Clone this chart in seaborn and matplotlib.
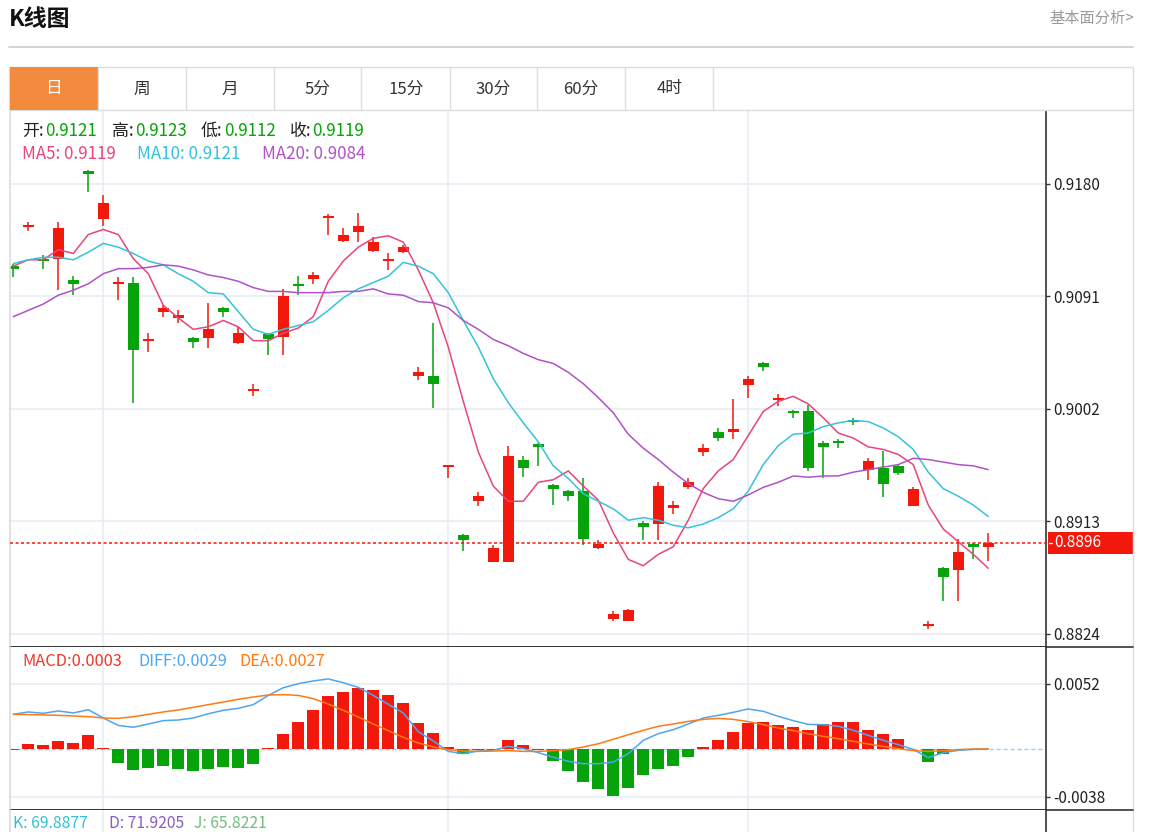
import numpy as np
import pandas as pd
import seaborn as sns
import matplotlib.pyplot as plt
from matplotlib.patches import Rectangle
from matplotlib.lines import Line2D

# ---- data (daily K line, 66 sessions) ----
opens = [0.9115, 0.9146, 0.9121, 0.9121, 0.9104, 0.9190, 0.9152, 0.9101, 0.9102, 0.9056,
         0.9079, 0.9074, 0.9058, 0.9058, 0.9082, 0.9054, 0.9016, 0.9061, 0.9059, 0.9101,
         0.9105, 0.9153, 0.9135, 0.9142, 0.9127, 0.9119, 0.9126, 0.9028, 0.9028, 0.8956,
         0.8902, 0.8929, 0.8881, 0.8881, 0.8962, 0.8974, 0.8942, 0.8937, 0.8937, 0.8892,
         0.8836, 0.8834, 0.8912, 0.8911, 0.8924, 0.8940, 0.8968, 0.8984, 0.8984, 0.9021,
         0.9038, 0.9009, 0.9000, 0.9000, 0.8975, 0.8977, 0.8993, 0.8954, 0.8955, 0.8957,
         0.8925, 0.8830, 0.8876, 0.8875, 0.8895, 0.8893]
highs = [0.9117, 0.9150, 0.9124, 0.9150, 0.9107, 0.9191, 0.9171, 0.9106, 0.9106, 0.9062,
         0.9084, 0.9080, 0.9059, 0.9086, 0.9083, 0.9067, 0.9022, 0.9062, 0.9097, 0.9107,
         0.9110, 0.9156, 0.9145, 0.9157, 0.9138, 0.9125, 0.9132, 0.9035, 0.9070, 0.8958,
         0.8903, 0.8936, 0.8894, 0.8973, 0.8965, 0.8975, 0.8943, 0.8938, 0.8947, 0.8898,
         0.8842, 0.8844, 0.8913, 0.8944, 0.8929, 0.8947, 0.8974, 0.8987, 0.9010, 0.9028,
         0.9039, 0.9014, 0.9001, 0.9005, 0.8977, 0.8978, 0.8995, 0.8963, 0.8969, 0.8958,
         0.8940, 0.8834, 0.8877, 0.8899, 0.8896, 0.8904]
lows = [0.9106, 0.9143, 0.9113, 0.9096, 0.9092, 0.9174, 0.9147, 0.9088, 0.9007, 0.9047,
        0.9075, 0.9070, 0.9050, 0.9050, 0.9075, 0.9053, 0.9012, 0.9045, 0.9045, 0.9092,
        0.9101, 0.9140, 0.9134, 0.9134, 0.9126, 0.9112, 0.9125, 0.9025, 0.9003, 0.8947,
        0.8890, 0.8925, 0.8881, 0.8881, 0.8948, 0.8957, 0.8926, 0.8929, 0.8894, 0.8891,
        0.8834, 0.8834, 0.8898, 0.8898, 0.8919, 0.8939, 0.8965, 0.8977, 0.8978, 0.9011,
        0.9032, 0.9004, 0.8995, 0.8953, 0.8947, 0.8971, 0.8989, 0.8946, 0.8932, 0.8950,
        0.8925, 0.8828, 0.8850, 0.8850, 0.8883, 0.8882]
closes = [0.9113, 0.9147, 0.9119, 0.9145, 0.9101, 0.9188, 0.9165, 0.9102, 0.9049, 0.9057,
          0.9082, 0.9076, 0.9055, 0.9065, 0.9079, 0.9062, 0.9018, 0.9057, 0.9091, 0.9099,
          0.9108, 0.9154, 0.9140, 0.9147, 0.9134, 0.9120, 0.9130, 0.9031, 0.9022, 0.8957,
          0.8898, 0.8933, 0.8892, 0.8965, 0.8955, 0.8972, 0.8939, 0.8933, 0.8899, 0.8895,
          0.8840, 0.8843, 0.8909, 0.8941, 0.8926, 0.8944, 0.8971, 0.8979, 0.8986, 0.9026,
          0.9035, 0.9010, 0.8999, 0.8955, 0.8972, 0.8975, 0.8992, 0.8961, 0.8943, 0.8951,
          0.8939, 0.8831, 0.8869, 0.8889, 0.8893, 0.8896]

ma5 = [0.9115, 0.9120, 0.9120, 0.9128, 0.9125, 0.9140, 0.9144, 0.9140, 0.9121, 0.9109,
       0.9084, 0.9074, 0.9065, 0.9067, 0.9072, 0.9067, 0.9056, 0.9056, 0.9062, 0.9066,
       0.9075, 0.9103, 0.9119, 0.9130, 0.9137, 0.9139, 0.9134, 0.9112, 0.9086, 0.9051,
       0.9008, 0.8968, 0.8941, 0.8929, 0.8929, 0.8944, 0.8946, 0.8953, 0.8941, 0.8930,
       0.8904, 0.8883, 0.8878, 0.8887, 0.8893, 0.8914, 0.8939, 0.8953, 0.8962, 0.8981,
       0.9000, 0.9008, 0.9012, 0.9006, 0.8995, 0.8983, 0.8979, 0.8972, 0.8970, 0.8966,
       0.8958, 0.8926, 0.8907, 0.8897, 0.8887, 0.8876]
ma10 = [0.9117, 0.9120, 0.9122, 0.9122, 0.9120, 0.9126, 0.9133, 0.9130, 0.9125, 0.9119,
        0.9116, 0.9109, 0.9103, 0.9094, 0.9093, 0.9079, 0.9065, 0.9061, 0.9065, 0.9068,
        0.9071, 0.9080, 0.9090, 0.9097, 0.9102, 0.9107, 0.9118, 0.9115, 0.9109, 0.9094,
        0.9072, 0.9051, 0.9026, 0.9007, 0.8991, 0.8976, 0.8957, 0.8947, 0.8935, 0.8929,
        0.8923, 0.8914, 0.8916, 0.8914, 0.8910, 0.8908, 0.8911, 0.8916, 0.8923, 0.8937,
        0.8958, 0.8973, 0.8982, 0.8983, 0.8988, 0.8991, 0.8993, 0.8992, 0.8987, 0.8980,
        0.8970, 0.8952, 0.8939, 0.8933, 0.8926, 0.8917]
ma20 = [0.9075, 0.9080, 0.9085, 0.9092, 0.9096, 0.9101, 0.9109, 0.9113, 0.9113, 0.9114,
        0.9116, 0.9115, 0.9112, 0.9108, 0.9106, 0.9103, 0.9098, 0.9095, 0.9095, 0.9094,
        0.9094, 0.9094, 0.9095, 0.9095, 0.9097, 0.9093, 0.9092, 0.9087, 0.9086, 0.9082,
        0.9072, 0.9065, 0.9057, 0.9052, 0.9046, 0.9041, 0.9038, 0.9031, 0.9022, 0.9011,
        0.8999, 0.8982, 0.8971, 0.8962, 0.8952, 0.8943, 0.8936, 0.8931, 0.8929, 0.8934,
        0.8940, 0.8944, 0.8949, 0.8948, 0.8949, 0.8949, 0.8952, 0.8954, 0.8956, 0.8958,
        0.8963, 0.8962, 0.8960, 0.8958, 0.8957, 0.8954]

macd = [-0.00008, 0.00037, 0.00029, 0.00061, 0.00050, 0.00109, 0.00010, -0.00109, -0.00170, -0.00151,
        -0.00135, -0.00159, -0.00178, -0.00159, -0.00143, -0.00149, -0.00122, 0.00005, 0.00120, 0.00212,
        0.00313, 0.00420, 0.00451, 0.00483, 0.00470, 0.00433, 0.00364, 0.00204, 0.00127, 0.00013,
        -0.00040, -0.00010, -0.00010, 0.00069, 0.00035, -0.00005, -0.00098, -0.00175, -0.00263, -0.00321,
        -0.00372, -0.00311, -0.00204, -0.00157, -0.00135, -0.00064, 0.00013, 0.00069, 0.00133, 0.00204,
        0.00212, 0.00188, 0.00173, 0.00154, 0.00196, 0.00212, 0.00212, 0.00154, 0.00117, 0.00077,
        -0.00003, -0.00104, -0.00040, 0.00002, 0.00001, 0.00000]
diff = [0.00276, 0.00295, 0.00284, 0.00303, 0.00287, 0.00313, 0.00247, 0.00188, 0.00173, 0.00199,
        0.00226, 0.00231, 0.00247, 0.00281, 0.00308, 0.00324, 0.00353, 0.00427, 0.00488, 0.00520,
        0.00542, 0.00558, 0.00528, 0.00491, 0.00427, 0.00356, 0.00287, 0.00138, 0.00064, -0.00019,
        -0.00037, -0.00016, -0.00011, 0.00021, 0.00003, -0.00029, -0.00066, -0.00098, -0.00117, -0.00117,
        -0.00104, -0.00037, 0.00069, 0.00122, 0.00154, 0.00199, 0.00247, 0.00268, 0.00292, 0.00319,
        0.00300, 0.00260, 0.00226, 0.00196, 0.00194, 0.00181, 0.00149, 0.00109, 0.00069, 0.00035,
        -0.00003, -0.00069, -0.00029, -0.00011, -0.00003, 0.00000]
dea = [0.00276, 0.00274, 0.00271, 0.00268, 0.00263, 0.00258, 0.00247, 0.00244, 0.00257, 0.00276,
       0.00295, 0.00311, 0.00332, 0.00353, 0.00374, 0.00396, 0.00414, 0.00430, 0.00433, 0.00427,
       0.00401, 0.00358, 0.00308, 0.00255, 0.00199, 0.00146, 0.00093, 0.00048, 0.00016, -0.00005,
       -0.00016, -0.00019, -0.00016, -0.00013, -0.00019, -0.00019, -0.00013, -0.00005, 0.00016, 0.00042,
       0.00077, 0.00114, 0.00149, 0.00181, 0.00199, 0.00220, 0.00236, 0.00244, 0.00236, 0.00218,
       0.00194, 0.00167, 0.00146, 0.00122, 0.00101, 0.00082, 0.00061, 0.00040, 0.00021, 0.00003,
       -0.00013, -0.00019, -0.00013, -0.00005, 0.00000, 0.00000]

price_ticks = [0.9180, 0.9091, 0.9002, 0.8913, 0.8824]
macd_ticks = [0.0052, -0.0038]
month_marks = [6, 29, 49]   # where the light vertical grid lines fall
tabs = ["日", "周", "月", "5分", "15分", "30分", "60分", "4时"]

# ---- style ----
RED = "#F2190C"
GREEN = "#07A30A"
C_MA5, C_MA10, C_MA20 = "#E8457C", "#35C3DC", "#B052C8"
C_DIFF, C_DEA = "#4DA6F2", "#FF7A14"
GRID = "#E6EDF3"
FRAME = "#DDDDDD"

sns.set_theme(style="white")
plt.rcParams["font.family"] = ["Noto Sans CJK SC", "DejaVu Sans"]

W, H = 1150, 832
fig = plt.figure(figsize=(W / 100, H / 100), dpi=100)


def rect(x0, y0, x1, y1):
    return [x0 / W, 1 - y1 / H, (x1 - x0) / W, (y1 - y0) / H]


def hline(x0, x1, y, color, lw=1.0):
    fig.add_artist(Line2D([x0 / W, x1 / W], [1 - y / H, 1 - y / H], color=color, lw=lw,
                          transform=fig.transFigure))


def vline(x, y0, y1, color, lw=1.0):
    fig.add_artist(Line2D([x / W, x / W], [1 - y0 / H, 1 - y1 / H], color=color, lw=lw,
                          transform=fig.transFigure))


def ftext(x, y, s, **kw):
    fig.text(x / W, 1 - y / H, s, va="center", **kw)


df = pd.DataFrame({"open": opens, "high": highs, "low": lows, "close": closes,
                   "ma5": ma5, "ma10": ma10, "ma20": ma20,
                   "macd": macd, "diff": diff, "dea": dea})
df["idx"] = np.arange(len(df))
df["up"] = df["close"] >= df["open"]
cols = np.where(df["up"], RED, GREEN)

ax = fig.add_axes(rect(10, 110, 1046, 647))
ax_m = fig.add_axes(rect(10, 647, 1046, 810))
ax_k = fig.add_axes(rect(10, 810, 1046, 832))

# ---- main candle panel ----
for t in price_ticks:
    ax.axhline(t, color=GRID, lw=1.2, zorder=0)
for a in (ax, ax_m, ax_k):
    for m in month_marks:
        a.axvline(m, color=GRID, lw=1.2, zorder=0)

ax.vlines(df["idx"], df["low"], df["high"], colors=cols, lw=1.1, zorder=2)
body_bot = np.minimum(df["open"], df["close"])
body_h = np.maximum((df["close"] - df["open"]).abs(), 0.00016)
ax.bar(df["idx"], body_h, bottom=body_bot, width=0.76, color=cols, linewidth=0, zorder=2)

sns.lineplot(data=df, x="idx", y="ma5", ax=ax, color=C_MA5, lw=1.1, zorder=3)
sns.lineplot(data=df, x="idx", y="ma10", ax=ax, color=C_MA10, lw=1.1, zorder=3)
sns.lineplot(data=df, x="idx", y="ma20", ax=ax, color=C_MA20, lw=1.1, zorder=3)

last = closes[-1]
ax.axhline(last, color=RED, lw=1.1, ls=(0, (2, 1.6)), zorder=4)

ax.set_xlim(-0.22, 68.85)
ax.set_ylim(0.88137, 0.92385)
ax.set_yticks(price_ticks)
ax.set_yticklabels([f"{t:.4f}" for t in price_ticks])

# ---- MACD panel ----
ax_m.axhline(0, color="#9CCFEE", lw=1, ls=(0, (3, 2)), zorder=1)
for t in macd_ticks:
    ax_m.axhline(t, color=GRID, lw=1.2, zorder=0)
df["sign"] = np.where(df["macd"] >= 0, "pos", "neg")
sns.barplot(data=df, x="idx", y="macd", hue="sign", palette={"pos": RED, "neg": GREEN},
            native_scale=True, width=0.78, dodge=False, legend=False, errorbar=None,
            saturation=1, linewidth=0, ax=ax_m, zorder=2)
sns.lineplot(data=df, x="idx", y="diff", ax=ax_m, color=C_DIFF, lw=1.1, zorder=3)
sns.lineplot(data=df, x="idx", y="dea", ax=ax_m, color=C_DEA, lw=1.1, zorder=3)
ax_m.set_xlim(-0.22, 68.85)
ax_m.set_ylim(-0.004858, 0.008124)
ax_m.set_yticks(macd_ticks)
ax_m.set_yticklabels([f"{t:.4f}" for t in macd_ticks])

ax_k.set_xlim(-0.22, 68.85)
ax_k.set_ylim(0, 1)
ax_k.set_yticks([])

for a in (ax, ax_m, ax_k):
    a.set_xticks([])
    a.set_xlabel("")
    a.set_ylabel("")
    a.yaxis.tick_right()
    a.tick_params(axis="y", length=3, width=1, color="#333333", labelcolor="#222222",
                  labelsize=11, pad=2, right=True, left=False)
    a.set_facecolor("white")
    a.spines["left"].set_color(FRAME)
    a.spines["right"].set_color("#333333")
    a.spines["right"].set_linewidth(1.2)
    a.spines["top"].set_visible(False)
    a.spines["bottom"].set_visible(False)
ax.spines["top"].set_visible(True)
ax.spines["top"].set_color(FRAME)
for a in (ax, ax_m):
    a.spines["bottom"].set_visible(True)
    a.spines["bottom"].set_color("#111111")
    a.spines["bottom"].set_linewidth(1.2)

# ---- page chrome ----
ftext(9, 20, "K线图", fontsize=16.5, fontweight="bold", color="#111111")
fig.text(1134 / W, 1 - 18 / H, "基本面分析>", ha="right", va="center", fontsize=11, color="#999999")
hline(9, 1133, 46.5, "#CCCCCC", 1.2)

fig.add_artist(Rectangle((9 / W, 1 - 110 / H), (1133 - 9) / W, 43.5 / H, transform=fig.transFigure,
                         facecolor="white", edgecolor=FRAME, lw=1))
fig.add_artist(Rectangle((9.5 / W, 1 - 110 / H), (97.8 - 9.5) / W, 43 / H, transform=fig.transFigure,
                         facecolor="#F38B3F", edgecolor="none"))
seps = [9, 97.8, 185.5, 273.7, 361.4, 450, 536.8, 625.4, 713]
for s in seps[1:]:
    vline(s, 67, 110, FRAME)
for k, name in enumerate(tabs):
    fig.text((seps[k] + seps[k + 1]) / 2 / W, 1 - 89 / H, name, ha="center", va="center",
             fontsize=12, color="white" if k == 0 else "#333333")
vline(1133, 110, 832, FRAME)
hline(1046, 1133, 647, "#333333", 1.2)
hline(1046, 1133, 810, "#333333", 1.2)

# OHLC / MA header
fs = 12.2
ftext(22, 131, "开:", fontsize=fs, color="#222222")
ftext(45, 131, "0.9121", fontsize=fs, color=GREEN)
ftext(112, 131, "高:", fontsize=fs, color="#222222")
ftext(135, 131, "0.9123", fontsize=fs, color=GREEN)
ftext(201, 131, "低:", fontsize=fs, color="#222222")
ftext(224, 131, "0.9112", fontsize=fs, color=GREEN)
ftext(290, 131, "收:", fontsize=fs, color="#222222")
ftext(312, 131, "0.9119", fontsize=fs, color=GREEN)
ftext(22, 154, "MA5: 0.9119", fontsize=fs, color=C_MA5)
ftext(137, 154, "MA10: 0.9121", fontsize=fs, color=C_MA10)
ftext(262, 154, "MA20: 0.9084", fontsize=fs, color=C_MA20)

ftext(22, 661, "MACD:0.0003", fontsize=11.8, color="#F0352B")
ftext(138, 661, "DIFF:0.0029", fontsize=11.8, color=C_DIFF)
ftext(239, 661, "DEA:0.0027", fontsize=11.8, color=C_DEA)
ftext(13, 824, "K: 69.8877", fontsize=11.3, color="#34BFD6")
ftext(109, 824, "D: 71.9205", fontsize=11.3, color="#8A5CC0")
ftext(194, 824, "J: 65.8221", fontsize=11.3, color="#70BD7E")

# current price tag on the right axis
fig.canvas.draw()
y_last = ax.transData.transform((0, last))[1]
fig.add_artist(Rectangle((1048 / W, (y_last - 11) / H), 85 / W, 22 / H, transform=fig.transFigure,
                         facecolor=RED, edgecolor="none"))
fig.add_artist(Line2D([1049 / W, 1052 / W], [y_last / H, y_last / H], color="white", lw=1,
                      transform=fig.transFigure))
fig.text(1054 / W, y_last / H, f"{last:.4f}", va="center", fontsize=11, color="white")

fig.savefig("out.png", dpi=100)
